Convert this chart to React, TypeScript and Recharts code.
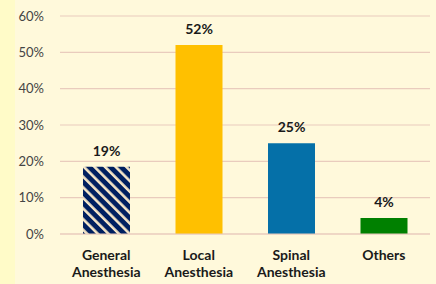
import React from "react";
import { BarChart, Bar, XAxis, YAxis, CartesianGrid, LabelList, Cell } from "recharts";

const categories = ["General Anesthesia", "Local Anesthesia", "Spinal Anesthesia", "Others"];
const values = [18.5, 52, 25, 4.4];
const valueLabels = ["19%", "52%", "25%", "4%"];
const yTicks = [0, 10, 20, 30, 40, 50, 60];
const colors = ["url(#stripes)", "#FFC000", "#0570A8", "#008000"];

const data = categories.map((c, i) => ({ name: c, value: values[i], label: valueLabels[i] }));

const FONT = "Lato, 'Open Sans', sans-serif";

const CatTick = (props: any) => {
  const { x, y, payload } = props;
  const words = String(payload.value).split(" ");
  return (
    <text x={x} y={y} textAnchor="middle" fontFamily={FONT} fontSize={14} fontWeight={700} fill="#1a1a1a">
      {words.map((w: string, i: number) => (
        <tspan key={i} x={x} dy={i === 0 ? 18 : 17}>{w}</tspan>
      ))}
    </text>
  );
};

export default function App() {
  return (
    <div style={{ position: "absolute", left: 0, top: 0, width: 436, height: 284, background: "#FFF9DB", overflow: "hidden" }}>
      <div style={{ position: "absolute", left: 0, top: 0, width: 15, height: 284, background: "#FFFBC8" }} />
      <BarChart
        width={436}
        height={284}
        data={data}
        margin={{ top: 16, right: 6, bottom: 0, left: 0 }}
        style={{ position: "absolute", left: 0, top: 0 }}
      >
        <defs>
          <pattern id="stripes" width="7.5" height="7.5" patternUnits="userSpaceOnUse" patternTransform="rotate(-45)">
            <rect width="7.5" height="7.5" fill="#002060" />
            <rect width="2.6" height="7.5" fill="#F5E6C8" />
          </pattern>
        </defs>
        <CartesianGrid vertical={false} stroke="#E9CCBD" strokeWidth={1.2} />
        <XAxis
          dataKey="name"
          axisLine={{ stroke: "#E9CCBD" }}
          tickLine={false}
          interval={0}
          height={50}
          tick={<CatTick />}
        />
        <YAxis
          domain={[0, 60]}
          ticks={yTicks}
          axisLine={false}
          tickLine={false}
          width={60}
          tickMargin={10}
          tickFormatter={(v: number) => `${v}%`}
          tick={{ fontFamily: FONT, fontSize: 13, fill: "#444" }}
        />
        <Bar dataKey="value" barSize={47} isAnimationActive={false}>
          {data.map((d, i) => (
            <Cell key={i} fill={colors[i]} />
          ))}
          <LabelList
            dataKey="label"
            position="top"
            offset={11}
            style={{ fontFamily: FONT, fontSize: 14, fontWeight: 700, fill: "#1a1a1a" }}
          />
        </Bar>
      </BarChart>
    </div>
  );
}
